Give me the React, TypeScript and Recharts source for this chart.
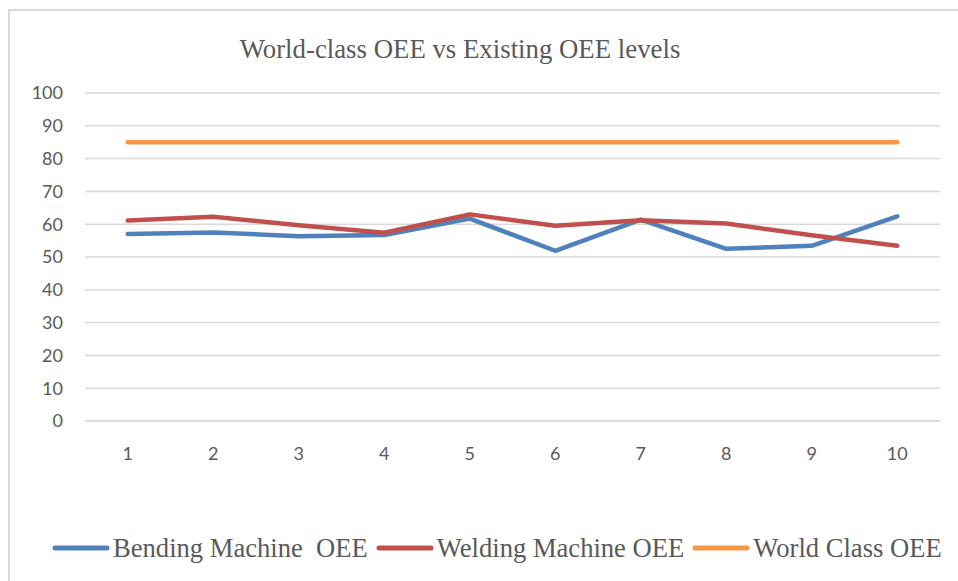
import React from 'react';
import { LineChart, Line, XAxis, YAxis, CartesianGrid, Legend } from 'recharts';

const categories = ['1', '2', '3', '4', '5', '6', '7', '8', '9', '10'];
const bendingOEE = [57.0, 57.5, 56.3, 56.7, 61.7, 51.9, 61.4, 52.5, 53.4, 62.4];
const weldingOEE = [61.1, 62.3, 59.7, 57.4, 63.0, 59.5, 61.2, 60.2, 56.6, 53.4];
const worldClassOEE = [85, 85, 85, 85, 85, 85, 85, 85, 85, 85];
const yTicks = [0, 10, 20, 30, 40, 50, 60, 70, 80, 90, 100];

const seriesInfo = [
  { key: 'bending', name: 'Bending Machine  OEE', color: '#4f81bd' },
  { key: 'welding', name: 'Welding Machine OEE', color: '#c0504d' },
  { key: 'world', name: 'World Class OEE', color: '#f79646' },
];

const data = categories.map((c, i) => ({
  x: c,
  bending: bendingOEE[i],
  welding: weldingOEE[i],
  world: worldClassOEE[i],
}));

const serif = '"Liberation Serif", "Times New Roman", serif';
const sans = 'Lato, "Liberation Sans", sans-serif';

const LegendContent = () => (
  <div style={{ display: 'flex', alignItems: 'center', whiteSpace: 'pre' }}>
    {seriesInfo.map((s) => (
      <div key={s.key} style={{ display: 'flex', alignItems: 'center', marginRight: 8 }}>
        <svg width={58} height={8} style={{ display: 'block', marginRight: 3 }}>
          <line x1={3} y1={4} x2={55} y2={4} stroke={s.color} strokeWidth={5} strokeLinecap="round" />
        </svg>
        <span style={{ fontFamily: serif, fontSize: 26.6, lineHeight: '26px', color: '#595959' }}>{s.name}</span>
      </div>
    ))}
  </div>
);

export default function App() {
  return (
    <div style={{ position: 'absolute', left: 0, top: 0, width: 958, height: 581, background: '#fff', overflow: 'hidden' }}>
      <div
        style={{
          position: 'absolute',
          left: 8,
          top: 9,
          width: 960,
          height: 600,
          borderTop: '2px solid #d9d9d9',
          borderLeft: '2px solid #d9d9d9',
          boxSizing: 'border-box',
        }}
      />
      <svg style={{ position: 'absolute', left: 0, top: 0 }} width={958} height={80}>
        <text x={460} y={58} textAnchor="middle" fontFamily={serif} fontSize={26.8} fill="#595959">
          World-class OEE vs Existing OEE levels
        </text>
      </svg>
      <div style={{ position: 'absolute', left: 0, top: 0 }}>
        <LineChart width={958} height={581} data={data} margin={{ top: 93, right: 18, left: 0, bottom: 104 }}>
          <CartesianGrid vertical={false} stroke="#d9d9d9" strokeWidth={1.5} />
          <XAxis
            dataKey="x"
            axisLine={{ stroke: '#d9d9d9', strokeWidth: 1.5 }}
            tickLine={false}
            tickMargin={20}
            height={30}
            padding={{ left: 42.75, right: 42.75 }}
            tick={{ fill: '#595959', fontSize: 18, fontFamily: sans }}
            interval={0}
          />
          <YAxis
            domain={[0, 100]}
            ticks={yTicks}
            axisLine={false}
            tickLine={false}
            tickMargin={16}
            width={85}
            tick={{ fill: '#595959', fontSize: 18, fontFamily: sans }}
            interval={0}
          />
          <Legend
            content={<LegendContent />}
            wrapperStyle={{ position: 'absolute', top: 535, left: 52, width: 'auto', height: 26 }}
          />
          {seriesInfo.map((s) => (
            <Line
              key={s.key}
              type="linear"
              dataKey={s.key}
              name={s.name}
              stroke={s.color}
              strokeWidth={4.5}
              strokeLinecap="round"
              strokeLinejoin="round"
              dot={false}
              activeDot={false}
              isAnimationActive={false}
            />
          ))}
        </LineChart>
      </div>
    </div>
  );
}
